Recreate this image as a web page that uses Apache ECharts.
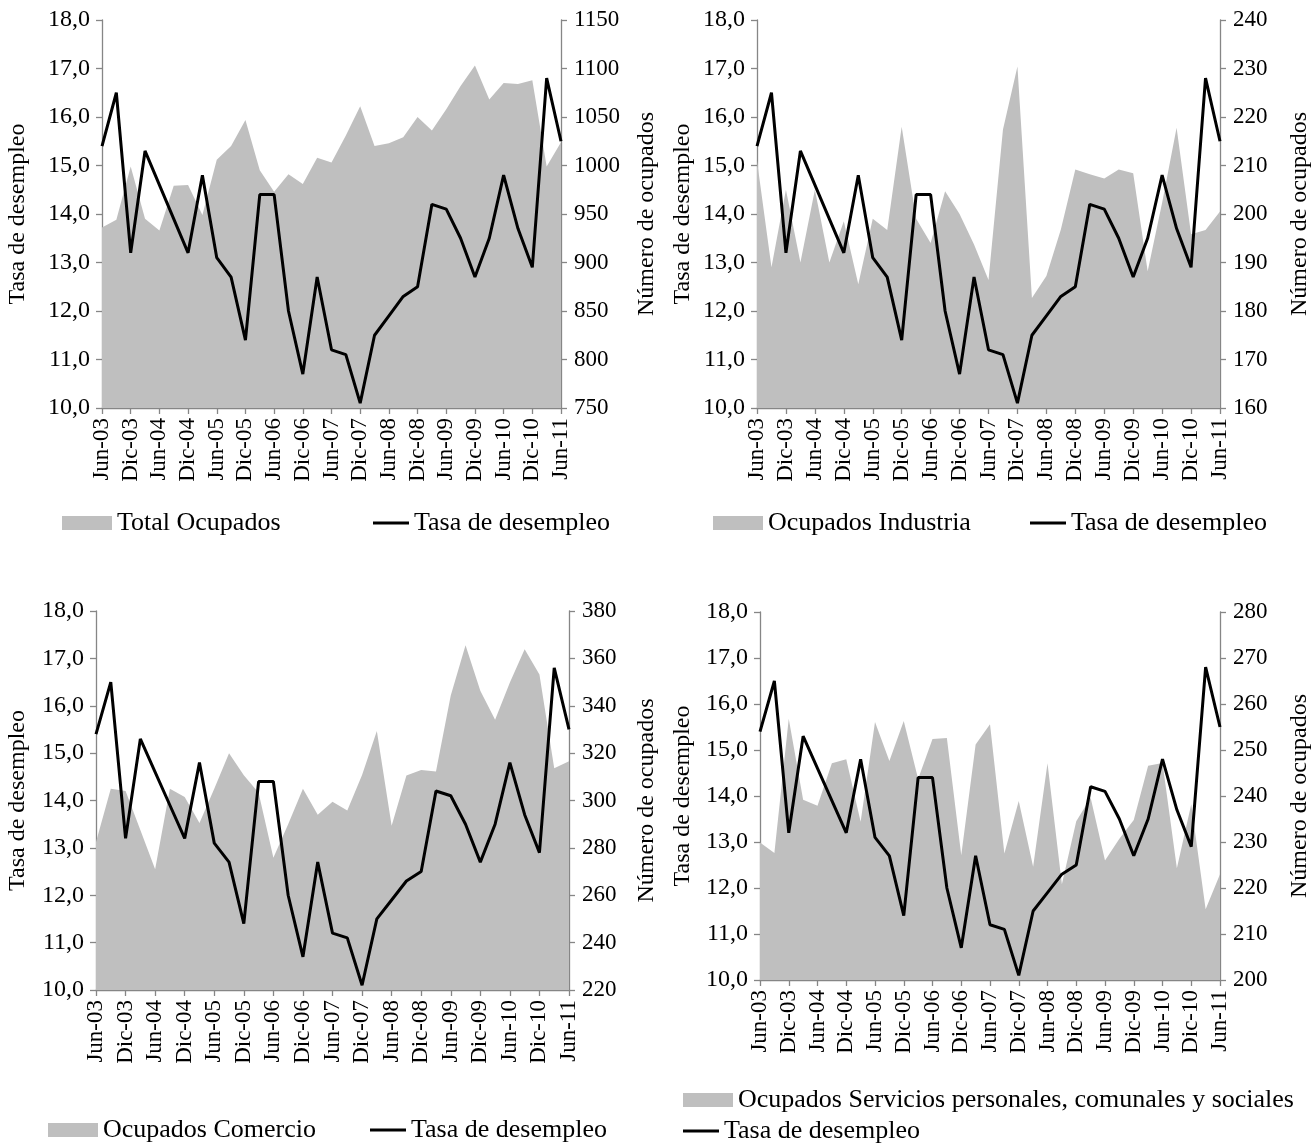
<!DOCTYPE html>
<html>
<head>
<meta charset="utf-8">
<script src="https://cdn.jsdelivr.net/npm/echarts@6/dist/echarts.min.js"></script>
<style>
html,body{margin:0;padding:0;background:#fff;}
#chart{width:1313px;height:1143px;}
</style>
</head>
<body>
<div id="chart"></div>
<script>
// Quarterly categories Jun-03 .. Jun-11
var categories = ['Jun-03','Sep-03','Dic-03','Mar-04','Jun-04','Sep-04','Dic-04','Mar-05','Jun-05','Sep-05','Dic-05','Mar-06','Jun-06','Sep-06','Dic-06','Mar-07','Jun-07','Sep-07','Dic-07','Mar-08','Jun-08','Sep-08','Dic-08','Mar-09','Jun-09','Sep-09','Dic-09','Mar-10','Jun-10','Sep-10','Dic-10','Mar-11','Jun-11'];

var tasaDesempleo = [15.4, 16.5, 13.2, 15.3, 14.6, 13.9, 13.2, 14.8, 13.1, 12.7, 11.4, 14.4, 14.4, 12.0, 10.7, 12.7, 11.2, 11.1, 10.1, 11.5, 11.9, 12.3, 12.5, 14.2, 14.1, 13.5, 12.7, 13.5, 14.8, 13.7, 12.9, 16.8, 15.5];

var totalOcupados = [936, 944, 999, 945, 933, 979, 980, 949, 1006, 1020, 1047, 995, 973, 991, 981, 1008, 1003, 1031, 1061, 1020, 1023, 1029, 1050, 1036, 1058, 1082, 1103, 1068, 1085, 1084, 1088, 999, 1024];

var ocupadosIndustria = [211, 189, 205, 190, 205, 190, 198.5, 185.5, 199, 196.7, 218, 199, 194, 204.7, 200, 193.7, 186.4, 217.4, 230.4, 182.7, 187.2, 196.8, 209.2, 208.2, 207.3, 209.2, 208.4, 188.2, 202.3, 217.8, 195.8, 196.7, 200.5];

var ocupadosComercio = [282.5, 305, 304, 287.5, 271, 305, 301.5, 290.5, 305, 320, 310.7, 303.3, 275.8, 290, 305, 294, 299.5, 295.8, 310.8, 329.3, 289.3, 310.6, 312.9, 312.2, 344.3, 365.5, 346.3, 334.1, 349.8, 363.8, 353.2, 313.6, 316.6];

var ocupadosServicios = [229.9, 227.6, 256.8, 239.2, 237.9, 247.1, 248.0, 234.4, 256.1, 247.6, 256.3, 243.7, 252.4, 252.6, 227.1, 251.2, 255.6, 227.5, 238.9, 224.6, 247.1, 220.8, 234.5, 239.6, 226.0, 230.7, 234.8, 246.6, 247.2, 224.3, 238.2, 215.4, 223.0];

var leftAxis = {min: 10, max: 18, interval: 1, name: 'Tasa de desempleo'};
var rightAxes = [
  {min: 750, max: 1150, interval: 50},
  {min: 160, max: 240, interval: 10},
  {min: 220, max: 380, interval: 20},
  {min: 200, max: 280, interval: 10}
];
var rightName = 'Número de ocupados';
var areaNames = ['Total Ocupados', 'Ocupados Industria', 'Ocupados Comercio', 'Ocupados Servicios personales, comunales y sociales'];
var areaData = [totalOcupados, ocupadosIndustria, ocupadosComercio, ocupadosServicios];
var lineName = 'Tasa de desempleo';

var FONT = 'Liberation Serif';
var AXIS_COLOR = '#868686';
var AREA_COLOR = '#BFBFBF';

var grids = [
  {left: 102, top: 20, width: 459, height: 388},
  {left: 757, top: 20, width: 463, height: 388},
  {left: 96, top: 611, width: 473, height: 379},
  {left: 760, top: 612, width: 462, height: 368}
];
var leftNameGap = [72, 62, 66, 65];
var rightNameGap = [74, 68, 66, 68];
var legendPos = [
  [{left: 62, top: 509}, {left: 373, top: 509}],
  [{left: 713, top: 509}, {left: 1030, top: 509}],
  [{left: 48, top: 1116}, {left: 370, top: 1116}],
  [{left: 683, top: 1086}, {left: 683, top: 1117}]
];

var xAxes = [], yAxes = [], series = [], legends = [];
grids.forEach(function (g, i) {
  xAxes.push({
    type: 'category', gridIndex: i, data: categories, boundaryGap: false,
    axisLine: {lineStyle: {color: AXIS_COLOR, width: 1.3}},
    axisTick: {interval: 1, length: 6, lineStyle: {color: AXIS_COLOR, width: 1.3}},
    axisLabel: {interval: 1, rotate: 90, margin: 10, color: '#000', fontFamily: FONT, fontSize: 23},
    splitLine: {show: false}
  });
  yAxes.push({
    type: 'value', gridIndex: i, position: 'left',
    min: leftAxis.min, max: leftAxis.max, interval: leftAxis.interval,
    name: leftAxis.name, nameLocation: 'middle', nameRotate: 90, nameGap: leftNameGap[i],
    nameTextStyle: {color: '#000', fontFamily: FONT, fontSize: 24},
    axisLine: {show: true, lineStyle: {color: AXIS_COLOR, width: 1.3}},
    axisTick: {show: true, length: 6, lineStyle: {color: AXIS_COLOR, width: 1.3}},
    axisLabel: {margin: 12, color: '#000', fontFamily: FONT, fontSize: 24,
      formatter: function (v) { return v.toFixed(1).replace('.', ','); }},
    splitLine: {show: false}
  });
  yAxes.push({
    type: 'value', gridIndex: i, position: 'right',
    min: rightAxes[i].min, max: rightAxes[i].max, interval: rightAxes[i].interval,
    name: rightName, nameLocation: 'middle', nameRotate: 90, nameGap: rightNameGap[i],
    nameTextStyle: {color: '#000', fontFamily: FONT, fontSize: 24},
    axisLine: {show: true, lineStyle: {color: AXIS_COLOR, width: 1.3}},
    axisTick: {show: true, length: 6, lineStyle: {color: AXIS_COLOR, width: 1.3}},
    axisLabel: {margin: 13, color: '#000', fontFamily: FONT, fontSize: 23,
      formatter: function (v) { return String(v); }},
    splitLine: {show: false}
  });
  series.push({
    name: areaNames[i], type: 'line', xAxisIndex: i, yAxisIndex: 2 * i + 1,
    data: areaData[i], symbol: 'none', z: 1,
    itemStyle: {color: AREA_COLOR},
    lineStyle: {width: 0, color: AREA_COLOR},
    areaStyle: {color: AREA_COLOR, opacity: 1, origin: 'start'}
  });
  series.push({
    name: lineName, type: 'line', xAxisIndex: i, yAxisIndex: 2 * i,
    data: tasaDesempleo, symbol: 'none', z: 3,
    itemStyle: {color: '#000'},
    lineStyle: {width: 3, color: '#000'}
  });
  legends.push({
    left: legendPos[i][0].left, top: legendPos[i][0].top, padding: 0,
    data: [{name: areaNames[i], icon: 'rect'}],
    itemWidth: 50, itemHeight: 14, selectedMode: false,
    textStyle: {color: '#000', fontFamily: FONT, fontSize: 26, lineHeight: 28}
  });
  legends.push({
    left: legendPos[i][1].left, top: legendPos[i][1].top, padding: 0,
    data: [{name: lineName, icon: 'path://M0,0H36V3H0Z'}],
    itemWidth: 36, itemHeight: 14, selectedMode: false,
    textStyle: {color: '#000', fontFamily: FONT, fontSize: 26, lineHeight: 28}
  });
});

var chart = echarts.init(document.getElementById('chart'), null, {renderer: 'canvas'});
chart.setOption({
  backgroundColor: '#ffffff',
  animation: false,
  grid: grids,
  xAxis: xAxes,
  yAxis: yAxes,
  legend: legends,
  series: series
});
</script>
</body>
</html>
